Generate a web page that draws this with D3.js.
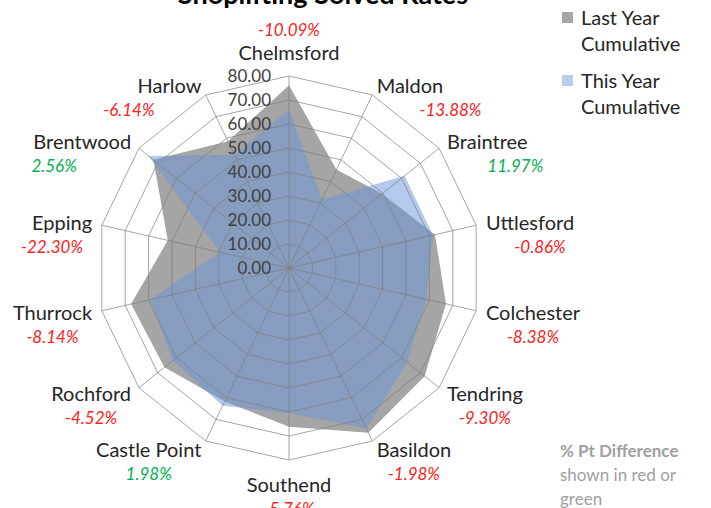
<!DOCTYPE html>
<html>
<head>
<meta charset="utf-8">
<script src="https://cdn.jsdelivr.net/npm/d3@7"></script>
<style>
  body { margin: 0; background: #fff; }
  svg { display: block; font-family: Lato, "Open Sans", sans-serif; }
</style>
</head>
<body>
<div id="chart"></div>
<script>
const categories = ["Chelmsford", "Maldon", "Braintree", "Uttlesford", "Colchester", "Tendring", "Basildon",
  "Southend", "Castle Point", "Rochford", "Thurrock", "Epping", "Brentwood", "Harlow"];
const lastYear = [76.1, 45.5, 49.6, 62.4, 67.1, 72.3, 76.2, 66.1, 61.7, 66.4, 67.5, 51.8, 72.3, 58.6];
const thisYear = [66.0, 31.6, 61.6, 61.5, 58.7, 63.0, 74.2, 60.4, 63.7, 61.9, 59.4, 29.5, 74.9, 52.4];
const pctDiff = [-10.09, -13.88, 11.97, -0.86, -8.38, -9.30, -1.98, -5.76, 1.98, -4.52, -8.14, -22.30, 2.56, -6.14];
const tickValues = [0, 10, 20, 30, 40, 50, 60, 70, 80];
const seriesNames = ["Last Year Cumulative", "This Year Cumulative"];

const width = 711, height = 508;
const cx = 289, cy = 268, radius = 192;

const svg = d3.select("#chart")
  .append("svg")
    .attr("width", width)
    .attr("height", height);

// title, mostly clipped off the top
svg.append("text")
  .attr("x", 323)
  .attr("y", 4)
  .attr("text-anchor", "middle")
  .attr("font-size", 27)
  .attr("font-weight", "bold")
  .attr("fill", "#000")
  .text("Shoplifting Solved Rates");

const rScale = d3.scaleLinear().domain([0, 80]).range([0, radius]);
const aScale = d3.scaleLinear().domain([0, categories.length]).range([0, 2 * Math.PI]);

const radial = d3.lineRadial()
  .angle((d, i) => aScale(i))
  .radius(d => rScale(d))
  .curve(d3.curveLinearClosed);

const inner = svg.append("g")
  .attr("transform", `translate(${cx}, ${cy})`);

/*    series fills    */
inner.append("path")
  .attr("d", radial(lastYear))
  .attr("fill", "#a5a5a5");

inner.append("path")
  .attr("d", radial(thisYear))
  .attr("fill", "rgb(105,150,220)")
  .attr("fill-opacity", 0.5);

/*    grid on top    */
const grid = inner.append("g")
  .attr("fill", "none")
  .attr("stroke", "#7f7f7f")
  .attr("stroke-opacity", 0.7)
  .attr("stroke-width", 1);

tickValues.filter(t => t > 0).forEach(t => {
  grid.append("path")
    .attr("d", radial(categories.map(() => t)));
});

categories.forEach((c, i) => {
  const a = aScale(i);
  grid.append("line")
    .attr("x1", 0).attr("y1", 0)
    .attr("x2", Math.sin(a) * rScale(80))
    .attr("y2", -Math.cos(a) * rScale(80));
});

/*    value axis labels    */
inner.append("g")
  .selectAll("text")
  .data(tickValues)
  .join("text")
    .attr("x", -18)
    .attr("y", d => -rScale(d))
    .attr("dy", "0.35em")
    .attr("text-anchor", "end")
    .attr("font-size", 17)
    .attr("fill", "#404040")
    .text(d => d.toFixed(2));

/*    category + difference labels    */
const labels = inner.append("g");
categories.forEach((c, i) => {
  const a = aScale(i);
  const s = Math.sin(a), co = Math.cos(a);
  const rl = rScale(80) + 10;
  let x = s * rl, y = -co * rl;
  let anchor = "middle";
  if (s > 0.1) anchor = "start";
  else if (s < -0.1) anchor = "end";
  if (Math.abs(s) <= 0.1) y += co > 0 ? -13 : 15;

  const name = labels.append("text")
    .attr("x", x)
    .attr("y", y)
    .attr("dy", "0.35em")
    .attr("text-anchor", anchor)
    .attr("font-size", 20)
    .attr("fill", "#262626")
    .text(c);

  const w = name.node().getComputedTextLength();
  const mid = anchor === "start" ? x + w / 2 : anchor === "end" ? x - w / 2 : x;
  const shift = Math.sign(s) * Math.max(0, co) * 45 * (Math.abs(s) > 0.1 ? 1 : 0);
  const dy = Math.abs(s) <= 0.1 && co > 0 ? -23 : 24;

  labels.append("text")
    .attr("x", mid + shift)
    .attr("y", y + dy)
    .attr("dy", "0.35em")
    .attr("text-anchor", "middle")
    .attr("font-size", 17)
    .attr("font-style", "italic")
    .attr("fill", pctDiff[i] < 0 ? "#ff2020" : "#00b050")
    .text(pctDiff[i].toFixed(2) + "%");
});

/*    legend    */
const legendColors = ["#a5a5a5", "rgb(183,205,238)"];
const legend = svg.append("g").attr("transform", "translate(562, 12)");
seriesNames.forEach((n, i) => {
  const g = legend.append("g").attr("transform", `translate(0, ${i * 63})`);
  g.append("rect")
    .attr("width", 11).attr("height", 11)
    .attr("fill", legendColors[i]);
  const words = n.split(" ");
  g.append("text")
    .attr("x", 19).attr("y", 6).attr("dy", "0.35em")
    .attr("font-size", 20).attr("fill", "#262626")
    .text(words.slice(0, 2).join(" "));
  g.append("text")
    .attr("x", 19).attr("y", 32).attr("dy", "0.35em")
    .attr("font-size", 20).attr("fill", "#262626")
    .text(words.slice(2).join(" "));
});

/*    footnote    */
const note = svg.append("g").attr("fill", "#a0a0a0").attr("font-size", 17);
note.append("text").attr("x", 560).attr("y", 451).attr("dy", "0.35em")
  .attr("font-weight", "bold").text("% Pt Difference");
note.append("text").attr("x", 560).attr("y", 475).attr("dy", "0.35em").text("shown in red or");
note.append("text").attr("x", 560).attr("y", 499).attr("dy", "0.35em").text("green");
</script>
</body>
</html>
